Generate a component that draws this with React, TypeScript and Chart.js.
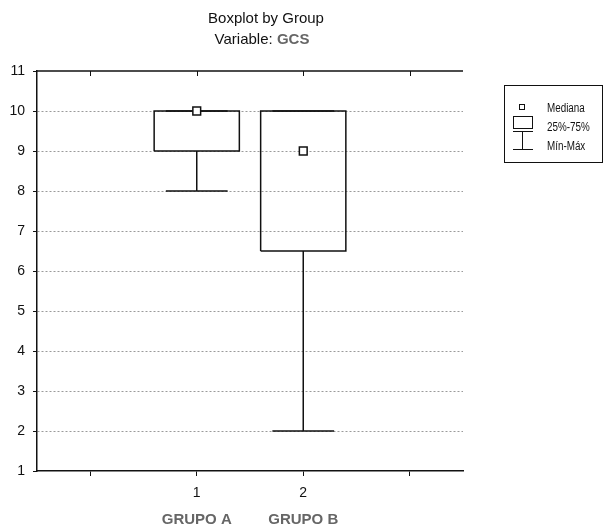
import React, { useEffect, useRef } from 'react';
import { Chart, registerables } from 'chart.js';

Chart.register(...registerables);

// ---- data ----
const groups = [1, 2];
const groupNames = ['GRUPO A', 'GRUPO B'];
const mins = [8, 2];
const q1s = [9, 6.5];
const medians = [10, 9];
const q3s = [10, 10];
const maxs = [10, 10];
const xTickValues = [0, 1, 2, 3];
const xTickLabels = ['', '1', '2', ''];
const yMin = 1;
const yMax = 11;
const titleText = 'Boxplot by Group';
const subtitleLabel = 'Variable: ';
const subtitleVar = 'GCS';
const legendLabels = ['Mediana', '25%-75%', 'Mín-Máx'];

const FONT = '"Liberation Sans", Arial, Helvetica, sans-serif';
const BOX_HALF = 0.4;
const CAP_HALF = 0.29;

export default function App() {
  const ref = useRef<HTMLCanvasElement | null>(null);

  useEffect(() => {
    if (!ref.current) return;
    const line = { showLine: true, pointRadius: 0, borderColor: '#111', borderWidth: 1.5, fill: false, order: 1 };
    const datasets: any[] = [];
    datasets.push({
      label: 'median',
      data: groups.map((g, i) => ({ x: g, y: medians[i] })),
      showLine: false,
      pointStyle: 'rect',
      pointRadius: 5.5,
      pointBackgroundColor: '#fff',
      pointBorderColor: '#111',
      pointBorderWidth: 1.5,
      order: 0,
    });
    groups.forEach((g, i) => {
      datasets.push({
        ...line,
        label: 'box' + g,
        data: [
          { x: g - BOX_HALF, y: q1s[i] },
          { x: g + BOX_HALF, y: q1s[i] },
          { x: g + BOX_HALF, y: q3s[i] },
          { x: g - BOX_HALF, y: q3s[i] },
          { x: g - BOX_HALF, y: q1s[i] },
        ],
      });
      datasets.push({
        ...line,
        label: 'low' + g,
        data: [
          { x: g, y: q1s[i] },
          { x: g, y: mins[i] },
          { x: g - CAP_HALF, y: mins[i] },
          { x: g + CAP_HALF, y: mins[i] },
        ],
      });
      datasets.push({
        ...line,
        label: 'high' + g,
        data: [
          { x: g, y: q3s[i] },
          { x: g, y: maxs[i] },
          { x: g - CAP_HALF, y: maxs[i] },
          { x: g + CAP_HALF, y: maxs[i] },
        ],
      });
    });

    const chrome = {
      id: 'chrome',
      afterDraw(chart: any) {
        const ctx = chart.ctx as CanvasRenderingContext2D;
        const { left, right, top } = chart.chartArea;
        const xs = chart.scales.x;
        ctx.save();
        // title
        ctx.fillStyle = '#111';
        ctx.textBaseline = 'alphabetic';
        ctx.textAlign = 'center';
        ctx.font = `15px ${FONT}`;
        ctx.fillText(titleText, 266, 23);
        ctx.font = `15px ${FONT}`;
        const w1 = ctx.measureText(subtitleLabel).width;
        ctx.font = `bold 15px ${FONT}`;
        const w2 = ctx.measureText(subtitleVar).width;
        const sx = 262 - (w1 + w2) / 2;
        ctx.textAlign = 'left';
        ctx.font = `15px ${FONT}`;
        ctx.fillStyle = '#111';
        ctx.fillText(subtitleLabel, sx, 44);
        ctx.font = `bold 15px ${FONT}`;
        ctx.fillStyle = '#666';
        ctx.fillText(subtitleVar, sx + w1, 44);

        // top frame line with inward ticks
        ctx.strokeStyle = '#111';
        ctx.lineWidth = 1.5;
        ctx.beginPath();
        ctx.moveTo(left, top);
        ctx.lineTo(right, top);
        ctx.stroke();
        ctx.lineWidth = 1;
        xTickValues.forEach((v) => {
          const px = Math.round(xs.getPixelForValue(v)) + 0.5;
          ctx.beginPath();
          ctx.moveTo(px, top);
          ctx.lineTo(px, top + 5);
          ctx.stroke();
        });

        // group names
        ctx.textAlign = 'center';
        ctx.fillStyle = '#666';
        ctx.font = `bold 15px ${FONT}`;
        groups.forEach((g, i) => {
          ctx.fillText(groupNames[i], xs.getPixelForValue(g), 524);
        });

        // legend
        ctx.strokeStyle = '#111';
        ctx.lineWidth = 1;
        ctx.strokeRect(504.5, 85.5, 98, 77);
        ctx.strokeRect(519.5, 104.5, 5, 5);
        ctx.strokeRect(513.5, 116.5, 19, 12);
        ctx.beginPath();
        ctx.moveTo(513, 131.5);
        ctx.lineTo(533, 131.5);
        ctx.moveTo(522.5, 131.5);
        ctx.lineTo(522.5, 149.5);
        ctx.moveTo(513, 149.5);
        ctx.lineTo(533, 149.5);
        ctx.stroke();
        ctx.fillStyle = '#111';
        ctx.textAlign = 'left';
        ctx.font = `12px ${FONT}`;
        legendLabels.forEach((t, i) => {
          ctx.save();
          ctx.translate(547, 112 + i * 19);
          ctx.scale(0.82, 1);
          ctx.fillText(t, 0, 0);
          ctx.restore();
        });
        ctx.restore();
      },
    };

    const chart = new Chart(ref.current, {
      type: 'scatter',
      data: { datasets },
      options: {
        animation: false,
        responsive: false,
        maintainAspectRatio: false,
        layout: { padding: { left: 0, top: 71, right: 144, bottom: 0 } },
        plugins: { legend: { display: false }, tooltip: { enabled: false }, title: { display: false } },
        scales: {
          x: {
            type: 'linear',
            min: -0.5,
            max: 3.5,
            afterFit: (s: any) => { s.height = 54; },
            afterBuildTicks: (s: any) => { s.ticks = xTickValues.map((v) => ({ value: v })); },
            ticks: {
              color: '#111',
              font: { family: FONT, size: 14 },
              padding: 9,
              maxRotation: 0,
              callback: (v: any) => { const i = xTickValues.indexOf(Number(v)); return i >= 0 ? xTickLabels[i] : ''; },
            },
            grid: { drawOnChartArea: false, drawTicks: true, tickLength: 5, tickColor: '#111', tickWidth: 1 },
            border: { display: true, color: '#111', width: 1.5 },
          },
          y: {
            type: 'linear',
            min: yMin,
            max: yMax,
            afterFit: (s: any) => { s.width = 37; },
            ticks: { stepSize: 1, color: '#111', font: { family: FONT, size: 14 }, padding: 8 },
            grid: {
              color: (c: any) => (c.tick && (c.tick.value === yMin || c.tick.value === yMax) ? 'rgba(0,0,0,0)' : '#9a9a9a'),
              lineWidth: 1,
              drawTicks: true,
              tickLength: 4,
              tickColor: '#111',
              tickBorderDash: [],
            },
            border: { display: true, color: '#111', width: 1.5, dash: [2, 2] },
          },
        },
      },
      plugins: [chrome],
    });
    return () => chart.destroy();
  }, []);

  return (
    <div style={{ position: 'absolute', left: 0, top: 0, width: 607, height: 525, background: '#fff' }}>
      <canvas ref={ref} width={607} height={525} style={{ width: 607, height: 525, display: 'block' }} />
    </div>
  );
}
